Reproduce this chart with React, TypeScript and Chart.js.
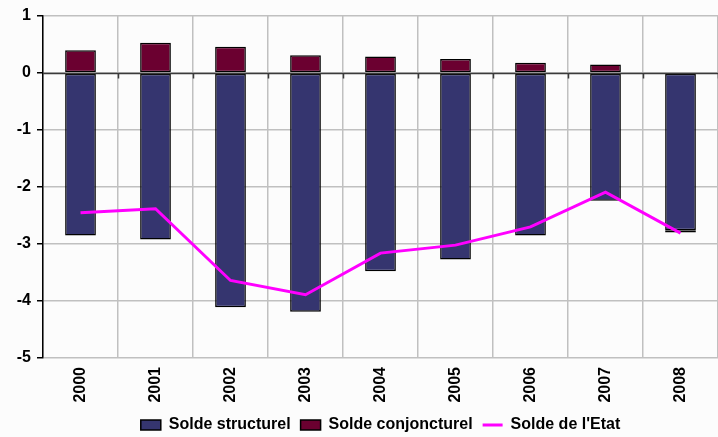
import { useEffect, useRef } from 'react';
import { Chart, registerables } from 'chart.js';

Chart.register(...registerables);

const years = ['2000', '2001', '2002', '2003', '2004', '2005', '2006', '2007', '2008'];
const soldeStructurel = [-2.85, -2.92, -4.11, -4.19, -3.48, -3.27, -2.85, -2.24, -2.76];
const soldeConjoncturel = [0.4, 0.53, 0.46, 0.31, 0.29, 0.245, 0.18, 0.15, -0.04];
const soldeEtat = [-2.45, -2.38, -3.64, -3.89, -3.16, -3.02, -2.7, -2.09, -2.81];
const yMin = -5;
const yMax = 1;

const FONT = 'Liberation Sans, Arial, sans-serif';

const zeroLinePlugin = {
  id: 'zeroLine',
  afterDatasetsDraw(chart: any) {
    const { ctx, chartArea, scales } = chart;
    const y0 = Math.round(scales.y.getPixelForValue(0)) + 0.5;
    ctx.save();
    ctx.strokeStyle = '#3a3a3a';
    ctx.lineWidth = 1.5;
    ctx.beginPath();
    ctx.moveTo(chartArea.left, y0);
    ctx.lineTo(chartArea.right, y0);
    ctx.stroke();
    const xs = scales.x;
    const half = (xs.getPixelForValue(1) - xs.getPixelForValue(0)) / 2;
    ctx.beginPath();
    for (let i = 0; i < years.length; i++) {
      const x = Math.round(xs.getPixelForValue(i) + half) + 0.5;
      ctx.moveTo(x, y0);
      ctx.lineTo(x, y0 + 5);
    }
    ctx.stroke();
    ctx.restore();
  },
};

export default function App() {
  const ref = useRef<HTMLCanvasElement | null>(null);
  useEffect(() => {
    document.body.style.margin = '0';
    document.body.style.background = '#fcfcfc';
    const chart = new Chart(ref.current!, {
      type: 'bar',
      data: {
        labels: years,
        datasets: [
          {
            type: 'bar',
            label: 'Solde structurel',
            data: soldeStructurel,
            backgroundColor: '#35356f',
            borderColor: '#000000',
            borderWidth: 1.5,
            borderSkipped: false,
            stack: 'bars',
            order: 1,
            pointStyle: 'rect',
          },
          {
            type: 'bar',
            label: 'Solde conjoncturel',
            data: soldeConjoncturel,
            backgroundColor: '#6b0030',
            borderColor: '#000000',
            borderWidth: 1.5,
            borderSkipped: false,
            stack: 'bars',
            order: 1,
            pointStyle: 'rect',
          },
          {
            type: 'line',
            label: "Solde de l'Etat",
            data: soldeEtat,
            borderColor: '#ff00ff',
            backgroundColor: '#ff00ff',
            borderWidth: 3,
            pointRadius: 0,
            tension: 0,
            stack: 'line',
            order: 0,
            pointStyle: 'line',
          },
        ],
      } as any,
      options: {
        animation: false,
        responsive: false,
        maintainAspectRatio: false,
        layout: { padding: { top: 16, right: 0, bottom: -6, left: 0 } },
        datasets: { bar: { categoryPercentage: 1, barPercentage: 0.41 } },
        plugins: {
          tooltip: { enabled: false },
          legend: {
            position: 'bottom',
            fullSize: false,
            labels: {
              sort: (a: any, b: any) => a.datasetIndex - b.datasetIndex,
              usePointStyle: true,
              pointStyleWidth: 20,
              boxHeight: 10,
              padding: 10,
              color: '#000',
              font: { family: FONT, size: 16, weight: 'bold' },
            },
          },
        },
        scales: {
          x: {
            stacked: true,
            grid: { offset: true, color: '#c0c0c0', lineWidth: 1.5, drawTicks: false },
            border: { display: false },
            ticks: {
              minRotation: 90,
              maxRotation: 90,
              padding: 9,
              color: '#000',
              font: { family: FONT, size: 16, weight: 'bold' },
            },
            afterFit: (s: any) => {
              s.height = 49;
            },
          },
          y: {
            stacked: true,
            min: yMin,
            max: yMax,
            ticks: {
              stepSize: 1,
              padding: 6,
              color: '#000',
              font: { family: FONT, size: 16, weight: 'bold' },
            },
            grid: { color: '#c0c0c0', lineWidth: 1.5, tickLength: 6, tickColor: '#000' },
            border: { display: true, color: '#000', width: 1.5 },
            afterFit: (s: any) => {
              s.width = 43;
            },
          },
        },
      } as any,
      plugins: [zeroLinePlugin],
    });
    return () => chart.destroy();
  }, []);
  return (
    <div style={{ width: 718, height: 437, background: '#fcfcfc' }}>
      <canvas ref={ref} width={718} height={437} style={{ display: 'block' }} />
    </div>
  );
}
